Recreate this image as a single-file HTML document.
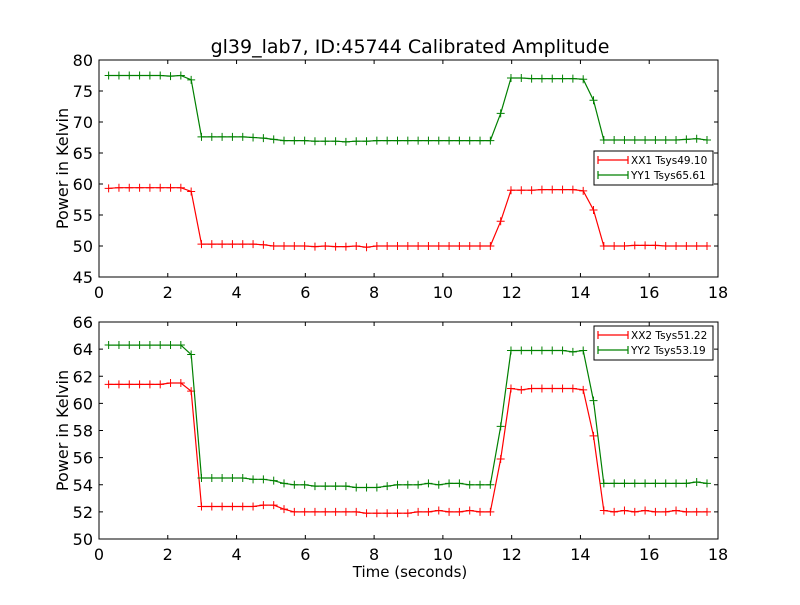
<!DOCTYPE html>
<html><head><meta charset="utf-8"><style>
body{margin:0;background:#fff;}
svg text{font-family:"DejaVu Sans","Liberation Sans",sans-serif;}
</style></head><body>
<svg id="chart" width="800" height="600" xmlns="http://www.w3.org/2000/svg"></svg>
<script>
const xTicks=[0,2,4,6,8,10,12,14,16,18];
const topYTicks=[45,50,55,60,65,70,75,80];
const botYTicks=[50,52,54,56,58,60,62,64,66];
const times=[];for(let i=0;i<59;i++)times.push(+(0.28+0.3*i).toFixed(2));
const xx1=[59.3,59.4,59.4,59.4,59.4,59.4,59.4,59.4,58.8,50.3,50.3,50.3,50.3,50.3,50.3,50.2,50.0,50.0,50.0,50.0,49.9,50.0,49.9,49.9,50.0,49.8,50.0,50.0,50.0,50.0,50.0,50.0,50.0,50.0,50.0,50.0,50.0,50.0,54.0,59.0,59.0,59.0,59.1,59.1,59.1,59.1,58.9,55.8,50.0,50.0,50.0,50.1,50.1,50.1,50.0,50.0,50.0,50.0,50.0];
const yy1=[77.5,77.5,77.5,77.5,77.5,77.5,77.4,77.5,76.8,67.6,67.6,67.6,67.6,67.6,67.5,67.4,67.2,67.0,67.0,67.0,66.9,66.9,66.9,66.8,66.9,66.9,67.0,67.0,67.0,67.0,67.0,67.0,67.0,67.0,67.0,67.0,67.0,67.0,71.4,77.1,77.1,77.0,77.0,77.0,77.0,77.0,76.9,73.5,67.1,67.1,67.1,67.1,67.1,67.1,67.1,67.1,67.2,67.3,67.1];
const xx2=[61.4,61.4,61.4,61.4,61.4,61.4,61.5,61.5,60.9,52.4,52.4,52.4,52.4,52.4,52.4,52.5,52.5,52.2,52.0,52.0,52.0,52.0,52.0,52.0,52.0,51.9,51.9,51.9,51.9,51.9,52.0,52.0,52.1,52.0,52.0,52.1,52.0,52.0,55.9,61.1,61.0,61.1,61.1,61.1,61.1,61.1,61.0,57.6,52.1,52.0,52.1,52.0,52.1,52.0,52.0,52.1,52.0,52.0,52.0];
const yy2=[64.3,64.3,64.3,64.3,64.3,64.3,64.3,64.3,63.6,54.5,54.5,54.5,54.5,54.5,54.4,54.4,54.3,54.1,54.0,54.0,53.9,53.9,53.9,53.9,53.8,53.8,53.8,53.9,54.0,54.0,54.0,54.1,54.0,54.1,54.1,54.0,54.0,54.0,58.3,63.9,63.9,63.9,63.9,63.9,63.9,63.8,63.9,60.2,54.1,54.1,54.1,54.1,54.1,54.1,54.1,54.1,54.1,54.2,54.1];
const NS="http://www.w3.org/2000/svg",svg=document.getElementById('chart');
function mk(tag,attrs,parent){const e=document.createElementNS(NS,tag);for(const k in attrs)e.setAttribute(k,attrs[k]);(parent||svg).appendChild(e);return e;}
const L=99,R=718;
const xS=v=>L+(v-0)/(18-0)*(R-L);
function panel(top,bot,ymin,ymax,yticks,series,legendY,legLabels,pname){
  const g=mk('g',{});
  
  
  const yS=v=>bot-(v-ymin)/(ymax-ymin)*(bot-top);
  series.forEach((s,si)=>{
    let d='';times.forEach((t,i)=>{d+=(i?'L':'M')+xS(t).toFixed(1)+' '+yS(s.v[i]).toFixed(1);});
    const p=mk('path',{d:d,fill:'none',stroke:s.c,'stroke-width':1.2},g);
    
    
    times.forEach((t,i)=>{const x=xS(t),y=yS(s.v[i]);
      const m=mk('path',{d:`M${x-4} ${y}H${x+4}M${x} ${y-4}V${y+4}`,stroke:s.c,'stroke-width':1},g);
      
      });
  });
  const fr=mk('rect',{x:L,y:top,width:R-L,height:bot-top,fill:'none',stroke:'#000','stroke-width':1},g);
  
  
  xTicks.forEach(v=>{const x=xS(v);
    mk('path',{d:`M${x} ${bot}v-4M${x} ${top}v4`,stroke:'#000'},g);
    const t=mk('text',{x:x,y:bot+21,'text-anchor':'middle','font-size':16},g);t.textContent=v;
    
    });
  yticks.forEach(v=>{const y=yS(v);
    mk('path',{d:`M${L} ${y}h4M${R} ${y}h-4`,stroke:'#000'},g);
    const t=mk('text',{x:L-6,y:y+6,'text-anchor':'end','font-size':16},g);t.textContent=v;
    
    });
  const yl=mk('text',{x:0,y:0,transform:`translate(68,${(top+bot)/2}) rotate(-90)`,'text-anchor':'middle','font-size':16},g);
  yl.textContent='Power in Kelvin';
  
  
  const lg=mk('g',{},g);
  
  
  mk('rect',{x:594,y:legendY,width:119,height:34,fill:'#fff',stroke:'#000','stroke-width':1},lg);
  series.forEach((s,si)=>{const y=legendY+9+si*15;
    mk('path',{d:`M598 ${y}H628M598 ${y-4}V${y+4}M628 ${y-4}V${y+4}`,stroke:s.c,'stroke-width':1.2},lg);
    const t=mk('text',{x:631,y:y+4,'font-size':10.5},lg);t.textContent=legLabels[si];
    
    });
}
panel(60,277,45,80,topYTicks,[{v:xx1,c:'#ff0000',n:'xx1'},{v:yy1,c:'#008000',n:'yy1'}],151,['XX1 Tsys49.10','YY1 Tsys65.61'],'top-panel');
panel(322,539,50,66,botYTicks,[{v:xx2,c:'#ff0000',n:'xx2'},{v:yy2,c:'#008000',n:'yy2'}],326,['XX2 Tsys51.22','YY2 Tsys53.19'],'bottom-panel');
const ti=mk('text',{x:410,y:53,'text-anchor':'middle','font-size':19});ti.textContent='gl39_lab7, ID:45744 Calibrated Amplitude';


const xl=mk('text',{x:410,y:577,'text-anchor':'middle','font-size':15});xl.textContent='Time (seconds)';


</script>
</body></html>
